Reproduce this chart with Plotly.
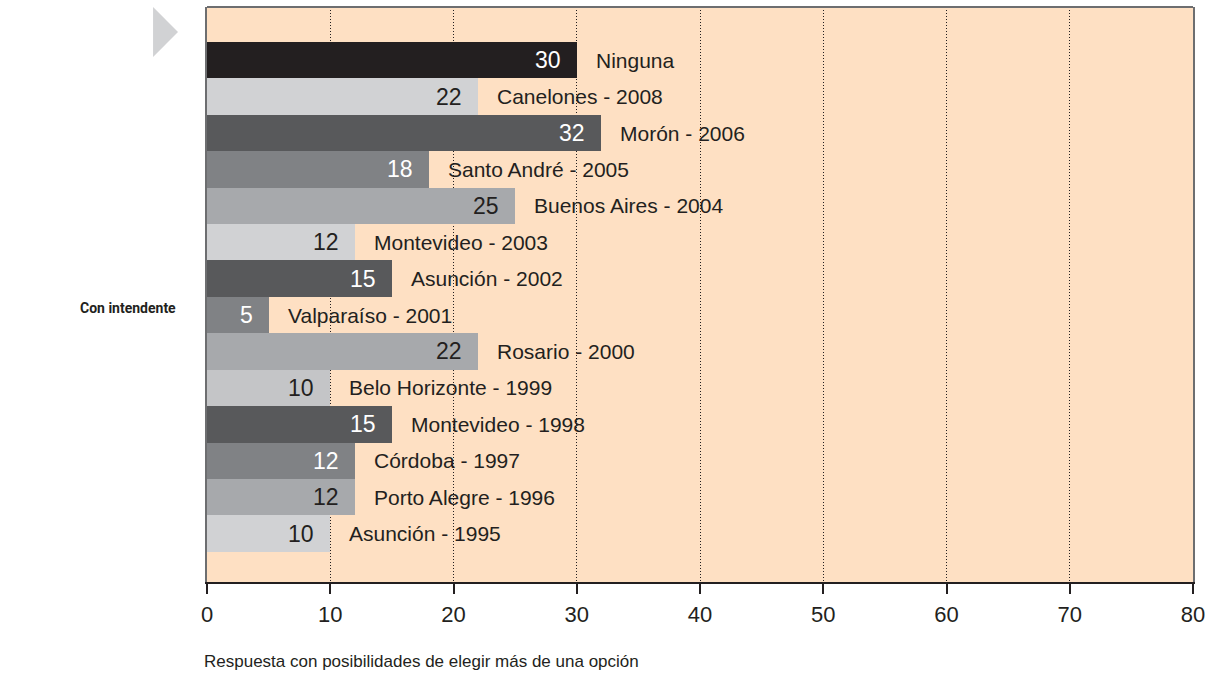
import plotly.graph_objects as go

categories = ["Ninguna", "Canelones - 2008", "Morón - 2006", "Santo André - 2005",
              "Buenos Aires - 2004", "Montevideo - 2003", "Asunción - 2002",
              "Valparaíso - 2001", "Rosario - 2000", "Belo Horizonte - 1999",
              "Montevideo - 1998", "Córdoba - 1997", "Porto Alegre - 1996",
              "Asunción - 1995"]
values = [30, 22, 32, 18, 25, 12, 15, 5, 22, 10, 15, 12, 12, 10]
bar_colors = ["#231f20", "#d1d2d4", "#58595b", "#808285", "#a7a9ac", "#d1d2d4",
              "#58595b", "#808285", "#a7a9ac", "#c4c5c7", "#58595b", "#808285",
              "#a7a9ac", "#d1d2d4"]
value_text_colors = ["#ffffff", "#231f20", "#ffffff", "#ffffff", "#231f20", "#231f20",
                     "#ffffff", "#ffffff", "#231f20", "#231f20", "#ffffff", "#ffffff",
                     "#231f20", "#231f20"]
x_ticks = [0, 10, 20, 30, 40, 50, 60, 70, 80]
group_label = "Con intendente"
footnote = "Respuesta con posibilidades de elegir más de una opción"

FONT = "Liberation Sans, Arial, sans-serif"

fig = go.Figure()
fig.add_trace(go.Bar(
    x=values, y=categories, orientation="h",
    marker=dict(color=bar_colors, line=dict(width=0)),
    hoverinfo="x+y", showlegend=False,
))

annotations = []
for cat, v, tc in zip(categories, values, value_text_colors):
    annotations.append(dict(x=v, y=cat, xref="x", yref="y", text=str(v),
                            showarrow=False, xanchor="right", xshift=-14,
                            font=dict(family=FONT, size=23, color=tc)))
    annotations.append(dict(x=v, y=cat, xref="x", yref="y", text=cat,
                            showarrow=False, xanchor="left", xshift=17,
                            font=dict(family=FONT, size=21, color="#231f20")))
annotations.append(dict(x=-0.0294, y=0.4765, xref="paper", yref="paper", text="<b>" + group_label + "</b>",
                        showarrow=False, xanchor="right", yanchor="middle",
                        font=dict(family="Roboto, sans-serif", size=14, color="#231f20")))
annotations.append(dict(x=-0.005, y=-0.1374, xref="paper", yref="paper", text=footnote,
                        showarrow=False, xanchor="left", yanchor="middle",
                        font=dict(family=FONT, size=17, color="#231f20")))

shapes = [
    dict(type="line", xref="paper", yref="paper", x0=0, x1=1, y0=1, y1=1,
         line=dict(color="#6d6e70", width=2)),
    dict(type="path", xref="paper", yref="paper",
         path="M -0.0547 1.0 L -0.0294 0.9565 L -0.0547 0.913 Z",
         fillcolor="#d1d2d4", line=dict(width=0)),
]

fig.update_layout(
    width=1212, height=679,
    margin=dict(l=207, r=17, t=7, b=97),
    paper_bgcolor="#ffffff",
    plot_bgcolor="#fee0c3",
    bargap=0,
    annotations=annotations,
    shapes=shapes,
    xaxis=dict(range=[0, 80], tickvals=x_ticks, ticktext=[str(t) for t in x_ticks],
               showgrid=True, gridcolor="#231f20", griddash="1px,2px", gridwidth=1,
               zeroline=False, showline=True, linecolor="#231f20", linewidth=2,
               ticks="outside", ticklen=10, tickwidth=2, tickcolor="#231f20",
               ticklabelstandoff=2, ticklabeloverflow="allow",
               tickfont=dict(family=FONT, size=22, color="#231f20")),
    yaxis=dict(categoryorder="array", categoryarray=categories,
               range=[14.33, -1.46], showticklabels=False, showgrid=False,
               zeroline=False, showline=True, mirror=True, linecolor="#6d6e70",
               linewidth=2, ticks=""),
)

fig.write_html("out.html",
               config={"displayModeBar": False},
               post_script="document.body.style.margin='0';document.body.style.overflow='hidden';")
